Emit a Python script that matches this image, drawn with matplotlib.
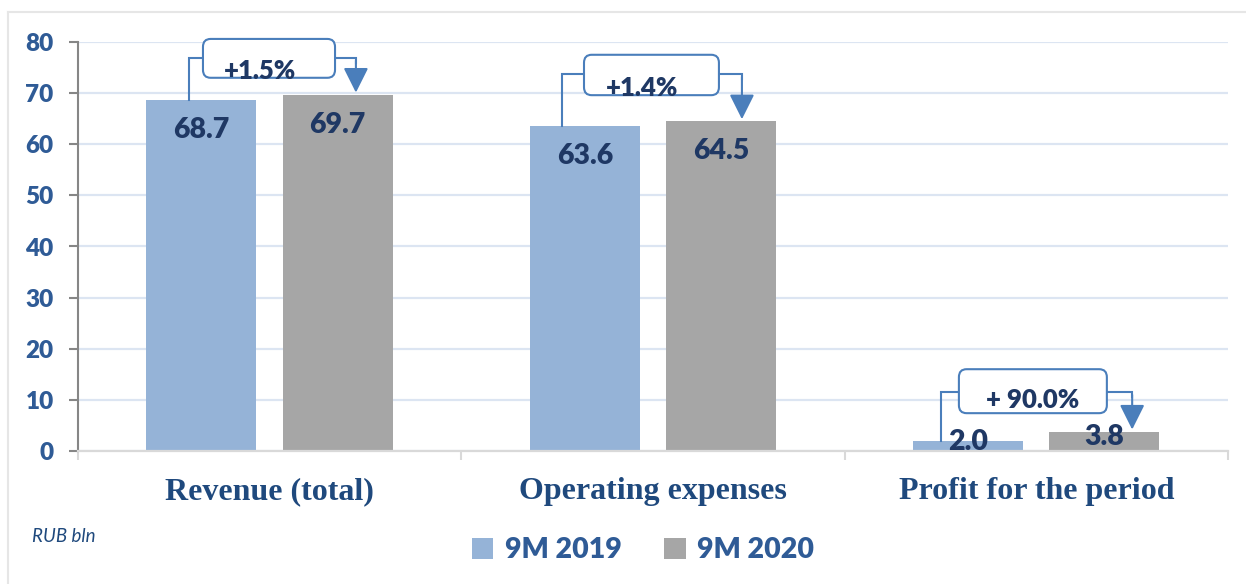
import matplotlib
matplotlib.use('Agg')
import matplotlib.pyplot as plt
from matplotlib.patches import FancyBboxPatch, Patch
from matplotlib.lines import Line2D
import numpy as np

# ---------------- data ----------------
categories = ['Revenue (total)', 'Operating expenses', 'Profit for the period']
series_names = ['9M 2019', '9M 2020']
values_2019 = [68.7, 63.6, 2.0]
values_2020 = [69.7, 64.5, 3.8]
change_labels = ['+1.5%', '+1.4%', '+ 90.0%']
y_ticks = [0, 10, 20, 30, 40, 50, 60, 70, 80]
unit_label = 'RUB bln'

# ---------------- style / layout ----------------
c2019 = '#95b3d7'
c2020 = '#a6a6a6'
navy = '#1f3864'
tick_blue = '#2f5b96'
cat_blue = '#1f497d'
conn_col = '#4a7ebb'
grid_col = '#dce5f2'
FW = 'heavy'

bar_w = 0.287
offs = [-0.178, 0.177]

# annotation layout (relative to category index)
box_l = [-0.174, -0.180, -0.202]
box_r = [0.1705, 0.172, 0.184]
box_t = [80.6, 77.5, 16.0]
box_b = [73.0, 69.6, 7.4]
conn_y = [76.9, 73.7, 11.5]
left_dx = [-0.210, -0.237, -0.249]
right_dx = [0.225, 0.232, 0.250]
text_dx = [-0.025, -0.029, -0.009]
text_y = [74.4, 71.1, 10.0]

fig = plt.figure(figsize=(12.46, 5.84), dpi=100)
ax = fig.add_axes([78/1246, 1-451/584, 1150/1246, 409/584])

x = np.arange(len(categories))
ax.bar(x + offs[0], values_2019, bar_w, color=c2019, zorder=2)
ax.bar(x + offs[1], values_2020, bar_w, color=c2020, zorder=2)

ax.set_xlim(-0.5, len(categories) - 0.5)
ax.set_ylim(0, 80)
ax.set_yticks(y_ticks)
ax.yaxis.grid(True, color=grid_col, linewidth=1.6, zorder=0)
ax.set_axisbelow(True)

for s in ['top', 'right']:
    ax.spines[s].set_visible(False)
ax.spines['left'].set_color('#868686')
ax.spines['left'].set_linewidth(1.5)
ax.spines['bottom'].set_color('#d9d9d9')
ax.spines['bottom'].set_linewidth(1.6)

ax.tick_params(axis='y', direction='out', length=6.5, width=1.5, color='#868686',
               pad=11, labelsize=17.5, labelcolor=tick_blue)
for lab in ax.get_yticklabels():
    lab.set_fontfamily('Lato')
    lab.set_fontweight(FW)

ax.set_xticks(np.arange(-0.5, len(categories), 1.0))
ax.set_xticklabels([])
ax.tick_params(axis='x', which='major', direction='out', length=6.5, width=1.5, color='#d9d9d9')
ax.set_xticks(x, minor=True)
ax.set_xticklabels(categories, minor=True, fontfamily='Liberation Serif',
                   fontweight='bold', fontsize=23, color=cat_blue)
ax.tick_params(axis='x', which='minor', length=0, pad=19)

# value labels
for i in range(len(categories)):
    for v, o in ((values_2019[i], offs[0]), (values_2020[i], offs[1])):
        ly = v - 5.9 if v > 10 else v / 2 + 0.8
        ax.text(x[i] + o, ly, f'{v:.1f}', ha='center', va='center',
                fontfamily='Lato', fontweight=FW, fontsize=20.5, color=navy, zorder=5)

# change annotations
for i in range(len(categories)):
    lx = x[i] + left_dx[i]
    rx = x[i] + right_dx[i]
    bl = x[i] + box_l[i]
    br = x[i] + box_r[i]
    ax.plot([lx, lx, bl], [values_2019[i], conn_y[i], conn_y[i]],
            color=conn_col, lw=1.5, zorder=3, solid_joinstyle='miter', clip_on=False)
    ax.plot([br, rx, rx], [conn_y[i], conn_y[i], conn_y[i] - 1.0],
            color=conn_col, lw=1.5, zorder=3, solid_joinstyle='miter', clip_on=False)
    ann = ax.annotate('', xy=(rx, values_2020[i] + 0.4), xytext=(rx, conn_y[i] - 0.5),
                      arrowprops=dict(arrowstyle='-|>,head_length=0.9,head_width=0.45',
                                      color=conn_col, lw=1.5, shrinkA=0, shrinkB=0,
                                      mutation_scale=17), zorder=3)
    ann.arrow_patch.set_clip_on(False)
    box = FancyBboxPatch((bl, box_b[i]), br - bl, box_t[i] - box_b[i],
                         boxstyle='round,pad=0,rounding_size=0.02',
                         mutation_aspect=78, facecolor='white',
                         edgecolor=conn_col, lw=1.5, zorder=4, clip_on=False)
    ax.add_patch(box)
    ax.text(x[i] + text_dx[i], text_y[i], change_labels[i], ha='center', va='center',
            fontfamily='Lato', fontweight=FW, fontsize=18.5, color=navy, zorder=6)

# legend
handles = [Patch(facecolor=c2019, edgecolor='none'), Patch(facecolor=c2020, edgecolor='none')]
leg = fig.legend(handles, series_names, loc='center', bbox_to_anchor=(0.516, 0.058),
                 ncol=2, frameon=False, handlelength=0.75, handleheight=0.75,
                 handletextpad=0.4, columnspacing=1.5,
                 prop={'family': 'Lato', 'weight': FW, 'size': 20.5})
for t in leg.get_texts():
    t.set_color(tick_blue)

fig.text(32/1246, 1-537/584, unit_label, fontfamily='Lato', fontstyle='italic',
         fontsize=13.5, color=cat_blue, ha='left', va='center')

# faint frame
fig.add_artist(Line2D([8/1246, 1], [1-12/584, 1-12/584], color='#e6e6e6', lw=1.5))
fig.add_artist(Line2D([8/1246, 8/1246], [0, 1-12/584], color='#e6e6e6', lw=1.5))

fig.savefig('out.png', dpi=100, facecolor='white')
